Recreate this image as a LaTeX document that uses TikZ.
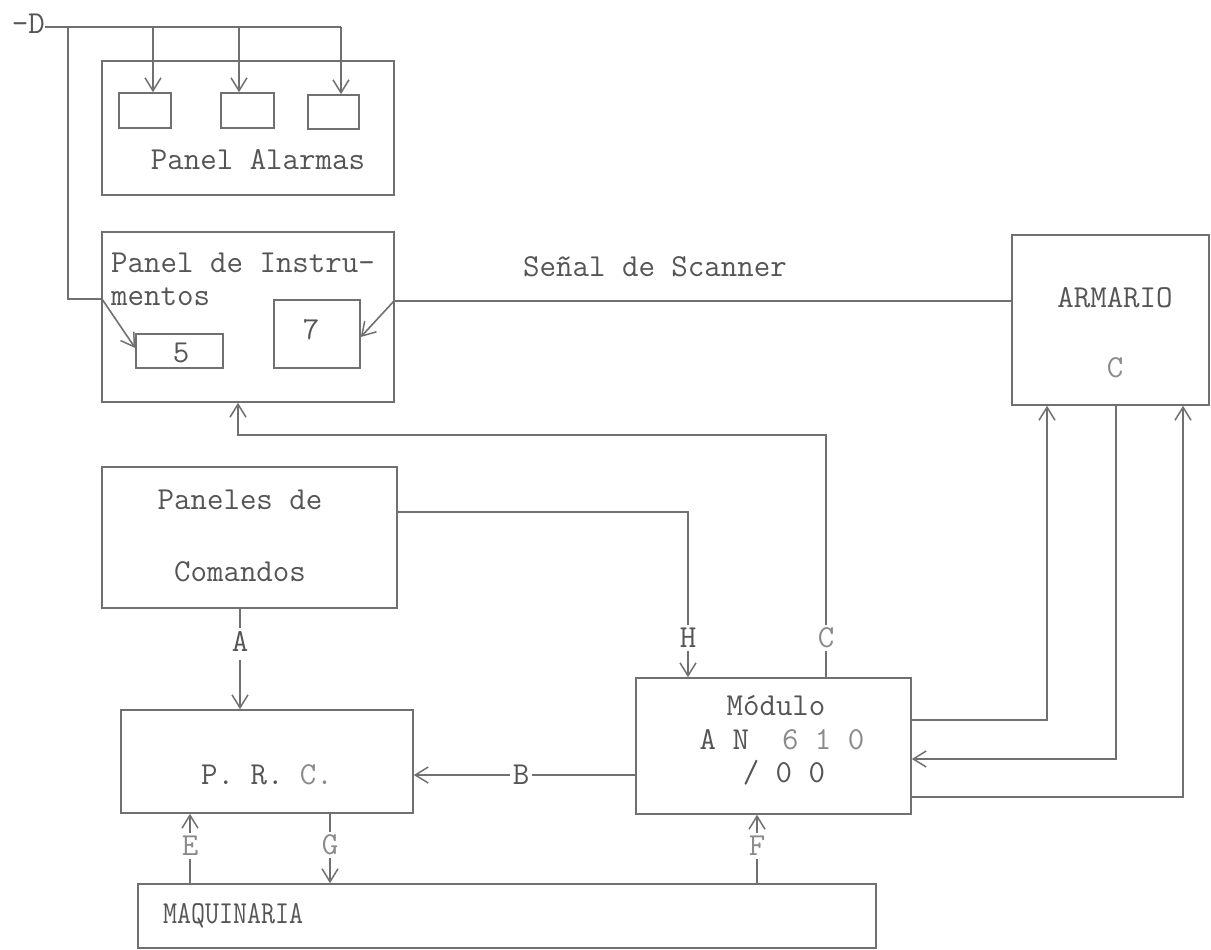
\documentclass[tikz,border=0pt]{standalone}
\usetikzlibrary{arrows.meta,calc}
\definecolor{ln}{HTML}{707070}
\definecolor{tx}{HTML}{555555}
\definecolor{tl}{HTML}{8A8A8A}
\begin{document}
\begin{tikzpicture}[x=1pt,y=-1pt,
  box/.style={draw=ln,line width=1.6pt,rectangle,inner sep=0pt},
  txt/.style={text=tx,inner sep=1pt,font=\ttfamily\fontsize{32}{34}\selectfont},
  lbl/.style={text=tx,inner sep=3pt,font=\ttfamily\fontsize{32}{34}\selectfont},
  wire/.style={draw=ln,line width=1.6pt},
  arr/.style={wire,-{Straight Barb[length=13pt,width=16pt,line width=1.5pt]}}]
\useasboundingbox (0,0) rectangle (1211,950);
% boxes
\node[box,minimum width=292,minimum height=134] (alarm) at (248,128) {};
\node[box,minimum width=52,minimum height=35] (a1) at (145,110.5) {};
\node[box,minimum width=53,minimum height=35] (a2) at (247.5,110.5) {};
\node[box,minimum width=51,minimum height=34] (a3) at (333.5,112) {};
\node[txt] (talarm) at (258,160) {Panel Alarmas};
\node[box,minimum width=292,minimum height=170] (instr) at (248,317) {};
\node[txt,anchor=west] (tinstr1) at (110,263) {Panel de Instru-};
\node[txt,anchor=west] (tinstr2) at (110,297) {mentos};
\node[box,minimum width=87,minimum height=34] (b5) at (179.5,351) {};
\node[txt] (t5) at (181,353) {5};
\node[box,minimum width=86,minimum height=68] (b7) at (317,334) {};
\node[txt] (t7) at (311,330) {7};
\node[box,minimum width=197,minimum height=170] (arm) at (1110.5,320) {};
\node[txt] (tarm) at (1115,298) {ARMARIO};
\node[txt,text=tl] (tarmc) at (1115,368) {C};
\node[box,minimum width=295,minimum height=141] (pan) at (249.5,537.5) {};
\node[txt] (tpan1) at (240,500) {Paneles de};
\node[txt] (tpan2) at (240,572) {Comandos};
\node[box,minimum width=292,minimum height=103] (prc) at (267,761.5) {};
\node[txt] (tprc) at (267,775) {P. R. \textcolor{tl}{C.}};
\node[box,minimum width=275,minimum height=136] (mod) at (773.5,746) {};
\node[txt] (tmod1) at (776,706) {Módulo};
\node[txt] (tmod2) at (782,740) {A\ N\ \ \textcolor{tl}{6\ 1\ 0}};
\node[txt] (tmod3) at (784,773) {/\ 0\ 0};
\node[box,minimum width=738,minimum height=64] (maq) at (507,916) {};
\node[txt,anchor=west,xscale=0.85] (tmaq) at (162,916) {MAQUINARIA};
\node[txt] (tscan) at (655,267) {Señal de Scanner};
% D bus
\node[txt,anchor=east,inner sep=0pt] (D) at (45,24) {-D};
\coordinate (dtop) at (341,27);
\coordinate (dj) at (68,27);
\coordinate (d1) at (153,27);
\coordinate (d2) at (239,27);
\coordinate (dk) at (68,299);
\coordinate (dl) at (102,299);
\draw[wire] (D.east |- dtop) -- (dtop);
\draw[arr] (d1) -- (d1 |- a1.north);
\draw[arr] (d2) -- (d2 |- a2.north);
\draw[arr] (dtop) -- (dtop |- a3.north);
\draw[arr] (dj) -- (dk) -- (dl) -- ($(b5.west)+(0,-3)$);
% scanner signal
\coordinate (s1) at (394,301);
\draw[arr] (arm.west |- s1) -- (s1) -- ($(b7.east)+(0,3)$);
% C line to panel de instrumentos
\node[lbl,text=tl] (lC) at (826,638) {C};
\coordinate (c1) at (826,435);
\coordinate (ci) at (238,435);
\draw[wire] (mod.north -| lC) -- (lC.south);
\draw[arr] (lC.north) -- (c1) -- (ci) -- (ci |- instr.south);
% H line
\node[lbl] (lH) at (688,638) {H};
\coordinate (h1) at (688,512);
\draw[wire] (pan.east |- h1) -- (h1) -- (lH.north);
\draw[arr] (lH.south) -- (lH.south |- mod.north);
% A line
\node[lbl] (lA) at (240,641) {A};
\draw[wire] (pan.south -| lA) -- (lA.north);
\draw[arr] ($(lA.south)+(0,6)$) -- (lA.south |- prc.north);
% B line
\node[lbl] (lB) at (521,775) {B};
\draw[wire] (mod.west |- lB) -- (lB.east);
\draw[arr] (lB.west) -- (lB -| prc.east);
% right side lines
\coordinate (r1) at (1047,720);
\coordinate (r2) at (1116,759);
\coordinate (r3) at (1183,797);
\draw[arr] (mod.east |- r1) -- (r1) -- (r1 |- arm.south);
\draw[arr] (r2 |- arm.south) -- (r2) -- (r2 -| mod.east);
\draw[arr] (mod.east |- r3) -- (r3) -- (r3 |- arm.south);
% E, G, F
\node[lbl,text=tl] (lE) at (190,846) {E};
\draw[wire] (maq.north -| lE) -- (lE.south);
\draw[arr] (lE.north) -- (lE.north |- prc.south);
\node[lbl,text=tl] (lG) at (330,845) {G};
\draw[wire] (prc.south -| lG) -- (lG.north);
\draw[arr] (lG.south) -- (lG.south |- maq.north);
\node[lbl,text=tl] (lF) at (757,846) {F};
\draw[wire] (maq.north -| lF) -- (lF.south);
\draw[arr] (lF.north) -- (lF.north |- mod.south);
\end{tikzpicture}
\end{document}
